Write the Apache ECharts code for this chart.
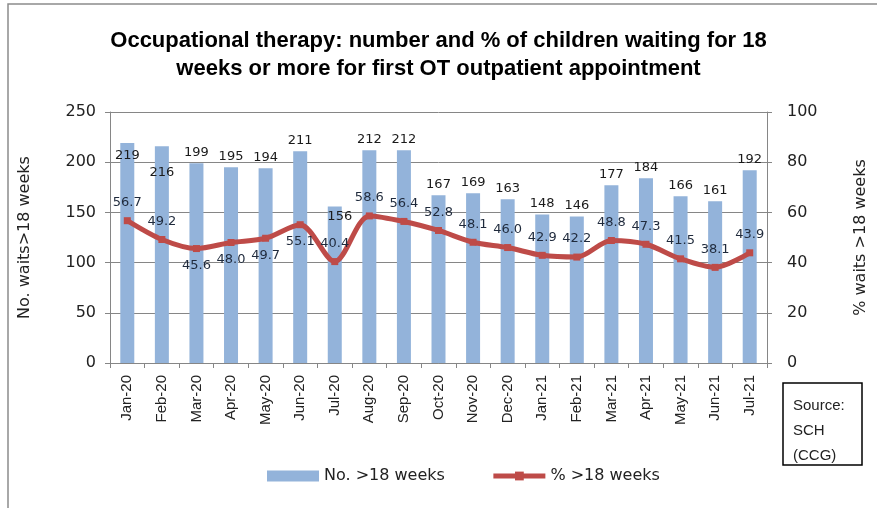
<!DOCTYPE html>
<html>
<head>
<meta charset="utf-8">
<script src="https://cdn.jsdelivr.net/npm/echarts@6/dist/echarts.min.js"></script>
<style>
  html, body { margin: 0; padding: 0; background: #fff; }
  #chart { width: 877px; height: 508px; }
</style>
</head>
<body>
<div id="chart"></div>
<script>
// data
const months = ['Jan-20', 'Feb-20', 'Mar-20', 'Apr-20', 'May-20', 'Jun-20', 'Jul-20', 'Aug-20', 'Sep-20', 'Oct-20',
  'Nov-20', 'Dec-20', 'Jan-21', 'Feb-21', 'Mar-21', 'Apr-21', 'May-21', 'Jun-21', 'Jul-21']
const waitsCount = [219, 216, 199, 195, 194, 211, 156, 212, 212, 167, 169, 163, 148, 146, 177, 184, 166, 161, 192]
const waitsPct = [56.7, 49.2, 45.6, 48.0, 49.7, 55.1, 40.4, 58.6, 56.4, 52.8, 48.1, 46.0, 42.9, 42.2, 48.8, 47.3, 41.5, 38.1, 43.9]
const leftTicks = { min: 0, max: 250, interval: 50 }
const rightTicks = { min: 0, max: 100, interval: 20 }

const myChart = echarts.init(document.getElementById('chart'))

const labelFont = 'DejaVu Sans'
const lineRed = '#be4b48'
const barBlue = '#93b3da'

// labels that Excel had moved by hand
const barLabelTweak = {
  0: { position: 'insideTop', distance: 6 },
  1: { position: 'insideTop', distance: 20 },
  6: { position: 'insideTop', distance: 4, offset: [5, 0] }
}
const lineLabelBelow = [2, 3, 4, 5]

const barData = waitsCount.map((v, i) => {
  const item = { value: v }
  if (barLabelTweak[i]) item.label = barLabelTweak[i]
  return item
})
const lineData = waitsPct.map((v, i) => {
  const item = { value: v }
  if (lineLabelBelow.indexOf(i) >= 0) item.label = { position: 'bottom', distance: 7 }
  return item
})

const option = {
  animation: false,
  backgroundColor: '#fff',
  title: {
    text: 'Occupational therapy: number and % of children waiting for 18\nweeks or more for first OT outpatient appointment',
    left: 'center',
    top: 22,
    textStyle: {
      fontFamily: 'Liberation Sans',
      fontWeight: 'bold',
      fontSize: 22,
      lineHeight: 28,
      color: '#000'
    }
  },
  grid: {
    left: 110,
    right: 106,
    top: 112,
    bottom: 145
  },
  legend: {
    left: 262,
    top: 463,
    itemGap: 46,
    itemWidth: 52,
    itemHeight: 11,
    textStyle: {
      fontFamily: labelFont,
      fontSize: 16,
      color: '#222'
    },
    data: [
      { name: 'No. >18 weeks', icon: 'rect' },
      { name: '% >18 weeks', lineStyle: { width: 5 } }
    ]
  },
  xAxis: {
    type: 'category',
    data: months,
    axisLine: { lineStyle: { color: '#868686' } },
    axisTick: { show: true, length: 5, lineStyle: { color: '#868686' } },
    axisLabel: {
      interval: 0,
      rotate: 90,
      margin: 12,
      fontFamily: 'Liberation Sans',
      fontSize: 15,
      color: '#222'
    }
  },
  yAxis: [
    {
      type: 'value',
      min: leftTicks.min,
      max: leftTicks.max,
      interval: leftTicks.interval,
      name: 'No. waits>18 weeks',
      nameLocation: 'middle',
      nameGap: 77,
      nameRotate: 90,
      nameTextStyle: { fontFamily: labelFont, fontSize: 16, color: '#222' },
      axisLine: { show: true, lineStyle: { color: '#868686' } },
      axisTick: { show: true, length: 5, lineStyle: { color: '#868686' } },
      axisLabel: { margin: 14, fontFamily: labelFont, fontSize: 16, color: '#222' },
      splitLine: { lineStyle: { color: '#868686' } }
    },
    {
      type: 'value',
      min: rightTicks.min,
      max: rightTicks.max,
      interval: rightTicks.interval,
      name: '% waits >18 weeks',
      nameLocation: 'middle',
      nameGap: 86,
      nameRotate: 90,
      nameTextStyle: { fontFamily: labelFont, fontSize: 16, color: '#222' },
      axisLine: { show: true, lineStyle: { color: '#868686' } },
      axisTick: { show: true, length: 5, lineStyle: { color: '#868686' } },
      axisLabel: { margin: 20, fontFamily: labelFont, fontSize: 16, color: '#222' },
      splitLine: { show: false }
    }
  ],
  series: [
    {
      name: 'No. >18 weeks',
      type: 'bar',
      yAxisIndex: 0,
      barWidth: 14,
      itemStyle: { color: barBlue },
      label: {
        show: true,
        position: 'top',
        distance: 4,
        fontFamily: labelFont,
        fontSize: 13,
        color: '#1a1a1a'
      },
      data: barData
    },
    {
      name: '% >18 weeks',
      type: 'line',
      yAxisIndex: 1,
      smooth: 0.3,
      symbol: 'rect',
      symbolSize: 7,
      itemStyle: { color: lineRed },
      lineStyle: { color: lineRed, width: 5 },
      label: {
        show: true,
        position: 'top',
        distance: 8,
        fontFamily: labelFont,
        fontSize: 13,
        color: '#1f2a3c',
        formatter: p => p.value.toFixed(1)
      },
      z: 5,
      data: lineData
    }
  ],
  graphic: [
    {
      type: 'rect',
      silent: true,
      z: -1,
      shape: { x: 8, y: 4, width: 880, height: 520 },
      style: { fill: 'none', stroke: '#8c8c8c', lineWidth: 1.5 }
    },
    {
      type: 'rect',
      shape: { x: 783, y: 383, width: 79, height: 82 },
      style: { fill: '#fff', stroke: '#000', lineWidth: 1.5 }
    },
    {
      type: 'text',
      left: 793,
      top: 393,
      style: {
        text: 'Source:\nSCH\n(CCG)',
        fontFamily: 'Liberation Sans',
        fontSize: 15,
        lineHeight: 25,
        fill: '#222'
      }
    }
  ]
}

myChart.setOption(option)
</script>
</body>
</html>
